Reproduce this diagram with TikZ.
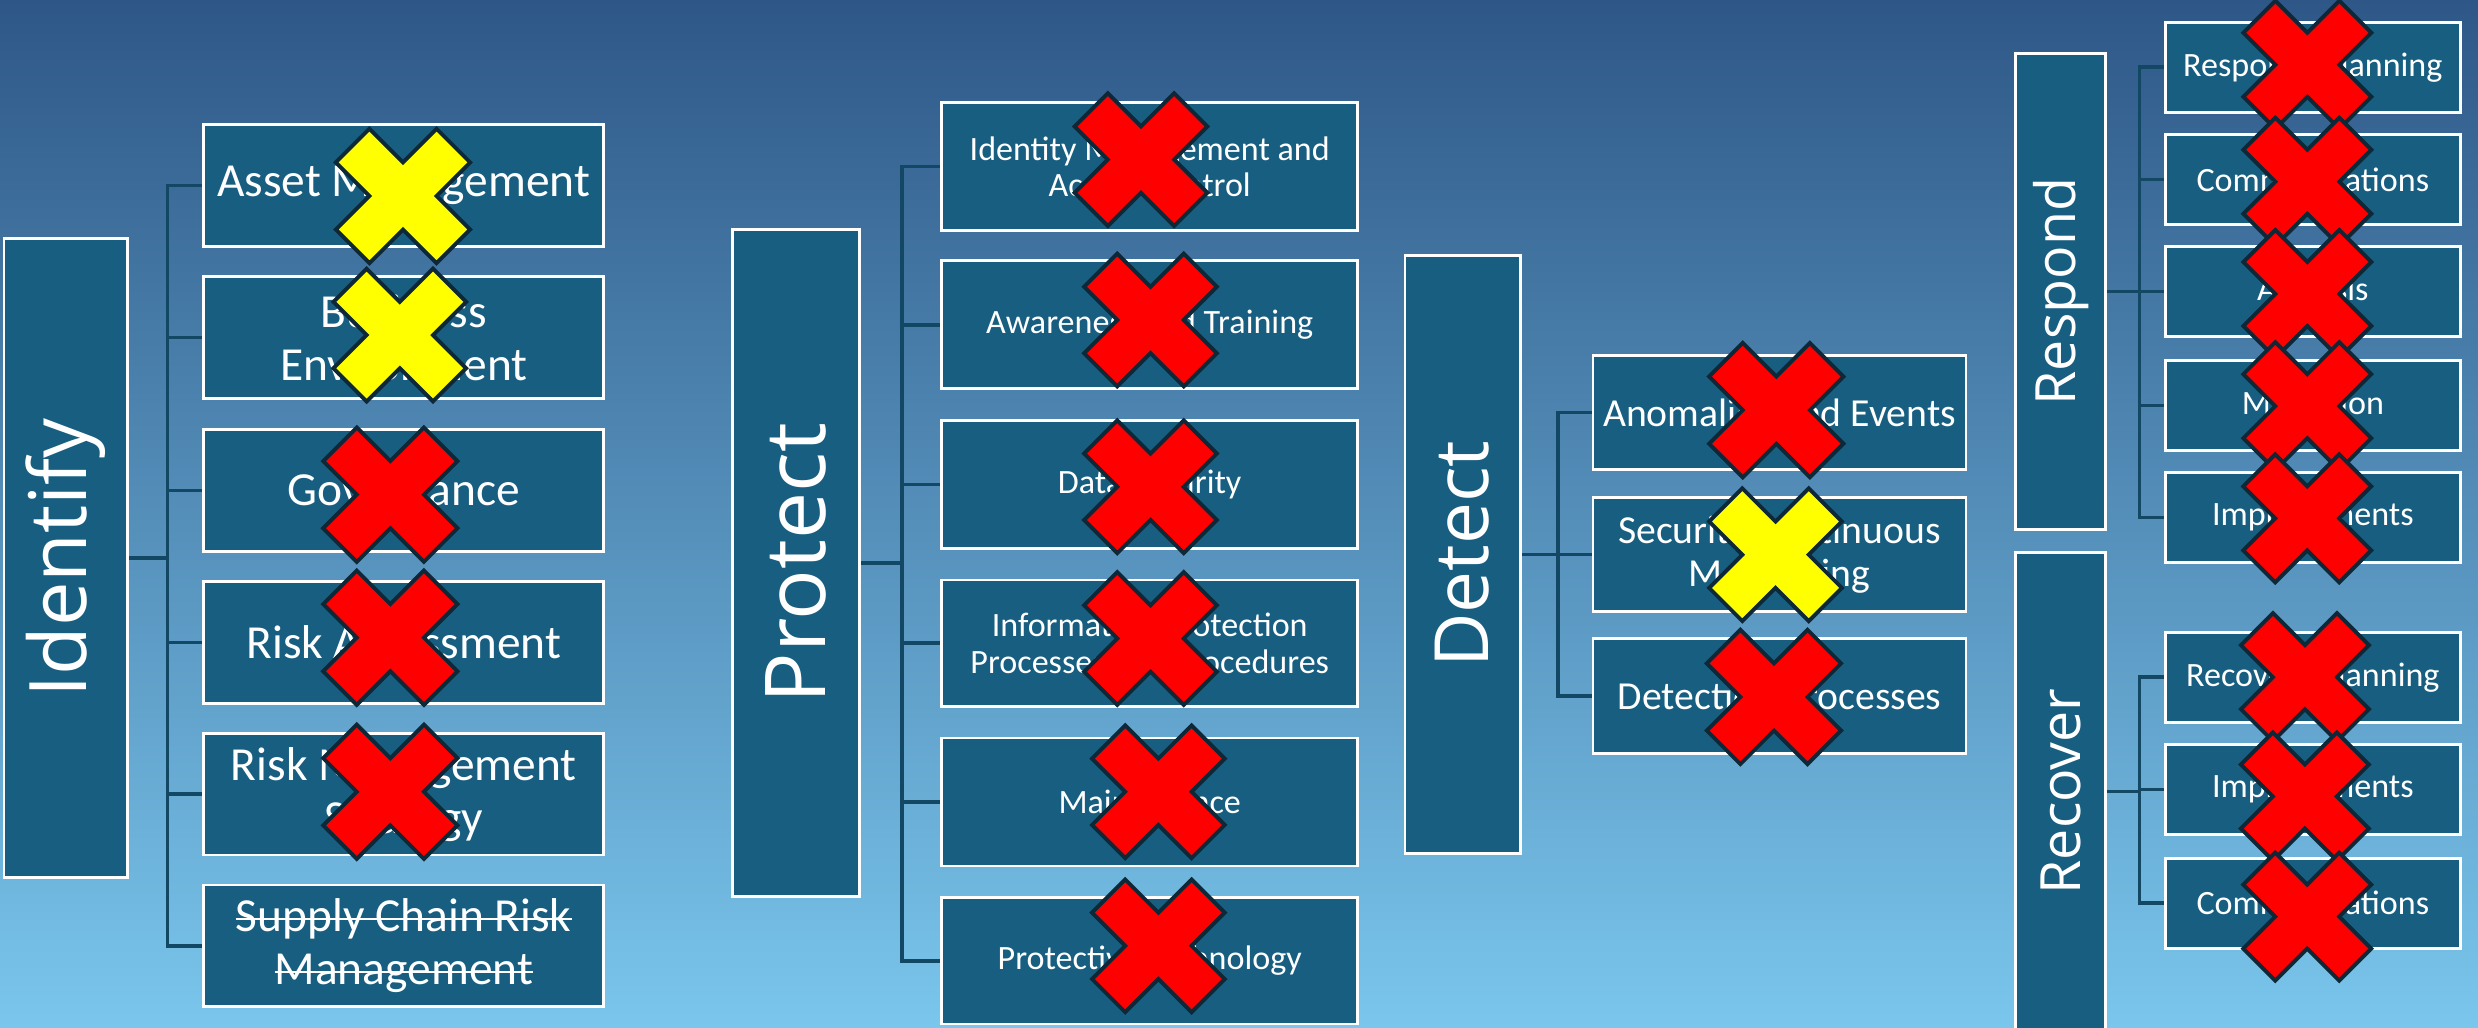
\documentclass[tikz,border=0pt]{standalone}
\usepackage{fontspec}
\setmainfont{Carlito}
\newfontfamily\labelfont{Open Sans}
\newsavebox{\strkbox}
\newcommand{\strk}[1]{\sbox{\strkbox}{#1}\rlap{\rule[0.24em]{\wd\strkbox}{0.6pt}}\usebox{\strkbox}}
\definecolor{boxfill}{RGB}{23,94,128}
\definecolor{connc}{RGB}{18,72,99}
\definecolor{xedge}{RGB}{14,40,56}
\definecolor{bgtop}{RGB}{46,87,135}
\definecolor{bgmid}{RGB}{84,144,192}
\definecolor{bgbot}{RGB}{122,198,236}
\definecolor{xred}{RGB}{255,0,0}
\definecolor{xyellow}{RGB}{255,255,0}
\pgfdeclarelayer{back}
\pgfdeclarelayer{lines}
\pgfsetlayers{back,lines,main}
\tikzset{
  cbox/.style={draw=white, line width=0.8pt, fill=boxfill, inner sep=0pt, text=white, align=center},
  conn/.style={draw=connc, line width=1pt},
  mlabel/.style={text=white, inner sep=0pt, rotate=90},
  tI/.style={font=\fontsize{13.5}{15.1}\selectfont},
  tP/.style={font=\fontsize{9.7}{10.4}\selectfont},
  tD/.style={font=\fontsize{11.3}{12.2}\selectfont},
  tR/.style={font=\fontsize{9.7}{10.6}\selectfont},
  redx/.style={fill=xred, draw=xedge, line width=1.1pt},
  yelx/.style={fill=xyellow, draw=xedge, line width=1.1pt},
  xmark/.pic={\path[pic actions] (-0.5,1)--(0,0.5)--(0.5,1)--(1,0.5)--(0.5,0)--(1,-0.5)--(0.5,-1)--(0,-0.5)--(-0.5,-1)--(-1,-0.5)--(-0.5,0)--(-1,0.5)--cycle;}
}
% box: name, x1, y1, x2, y2, style, text  (coordinates in reference pixels at 1568 wide)
\newcommand{\bx}[7]{\node[cbox,#6,minimum width={(#4-#2)*0.015804cm}, minimum height={(#5-#3)*0.015804cm}] (#1) at ({(#2+#4)/2},{(#3+#5)/2}) {#7};}
\begin{document}
\begin{tikzpicture}[x=0.015804cm, y=-0.015804cm]
\useasboundingbox (0,0) rectangle (1568,650);
\clip (0,0) rectangle (1568,650);
\begin{pgfonlayer}{back}
\shade[top color=bgtop, middle color=bgmid, bottom color=bgbot] (0,0) rectangle (1568,650);
\end{pgfonlayer}

% ---------- Identify ----------
\bx{idmain}{2.5}{151}{80.5}{555}{}{}
\node[mlabel, font=\labelfont\fontsize{22.6}{26}\selectfont] (idlbl) at (idmain.center) {Identify};
\bx{am}{129}{79}{382}{156}{tI}{Asset Management}
\bx{be}{129}{175}{382}{252}{tI}{Business\\Environment}
\bx{gv}{129}{272}{382}{349}{tI}{Governance}
\bx{ra}{129}{368}{382}{445}{tI}{Risk Assessment}
\bx{rm}{129}{464}{382}{541}{tI}{Risk Management\\Strategy}
\bx{sc}{129}{560}{382}{637}{tI}{\strk{Supply Chain Risk}\\\strk{Management}}

% ---------- Protect ----------
\bx{prmain}{463.5}{145}{544}{567.5}{}{}
\node[mlabel, font=\labelfont\fontsize{23.9}{28}\selectfont] (prlbl) at (prmain.center) {Protect};
\bx{p1}{596}{65}{859}{146}{tP}{Identity Management and\\Access Control}
\bx{p2}{596}{165}{859}{246}{tP}{Awareness and Training}
\bx{p3}{596}{266}{859}{347}{tP}{Data Security}
\bx{p4}{596}{367}{859}{447}{tP}{Information Protection\\Processes and Procedures}
\bx{p5}{596}{467}{859}{548}{tP}{Maintenance}
\bx{p6}{596}{568}{859}{648}{tP}{Protective Technology}

% ---------- Detect ----------
\bx{dtmain}{889}{161.5}{962}{540}{}{}
\node[mlabel, font=\labelfont\fontsize{21.3}{25}\selectfont] (dtlbl) at (dtmain.center) {Detect};
\bx{d1}{1008}{225}{1244}{297}{tD}{Anomalies and Events}
\bx{d2}{1008}{315}{1244}{387}{tD}{Security Continuous\\Monitoring}
\bx{d3}{1008}{404}{1244}{477}{tD}{Detection Processes}

% ---------- Respond ----------
\bx{rsmain}{1275.5}{34}{1332.5}{335}{}{}
\node[mlabel, font=\labelfont\fontsize{15.8}{19}\selectfont] (rslbl) at (rsmain.center) {Respond};
\bx{r1}{1370}{14}{1557}{71}{tR}{Response Planning}
\bx{r2}{1370}{85}{1557}{142}{tR}{Communications}
\bx{r3}{1370}{156}{1557}{213}{tR}{Analysis}
\bx{r4}{1370}{228}{1557}{285}{tR}{Mitigation}
\bx{r5}{1370}{299}{1557}{356}{tR}{Improvements}

% ---------- Recover ----------
\bx{rcmain}{1275.5}{349.5}{1332.5}{652}{}{}
\node[mlabel, font=\labelfont\fontsize{15.8}{19}\selectfont] (rclbl) at (rcmain.center) {Recover};
\bx{c1}{1370}{400}{1557}{457}{tR}{Recovery Planning}
\bx{c2}{1370}{471}{1557}{528}{tR}{Improvements}
\bx{c3}{1370}{543}{1557}{600}{tR}{Communications}

% ---------- connectors ----------
\begin{pgfonlayer}{lines}
\foreach \c in {am,be,gv,ra,rm,sc} \draw[conn] (idmain.east) -- ++(24.5,0) |- (\c.west);
\foreach \c in {p1,p2,p3,p4,p5,p6} \draw[conn] (prmain.east) -- ++(26,0) |- (\c.west);
\foreach \c in {d1,d2,d3} \draw[conn] (dtmain.east) -- ++(23,0) |- (\c.west);
\foreach \c in {r1,r2,r3,r4,r5} \draw[conn] (rsmain.east) -- ++(20.5,0) |- (\c.west);
\foreach \c in {c1,c2,c3} \draw[conn] (rcmain.east) -- ++(20.5,0) |- (\c.west);
\end{pgfonlayer}

% ---------- crosses ----------
\pic[yelx, scale=42.5] at (255,124) {xmark};
\pic[yelx, scale=42] at (253,212) {xmark};
\pic[redx, scale=42.5] at (247,313) {xmark};
\pic[redx, scale=42.5] at (247,403.5) {xmark};
\pic[redx, scale=42.5] at (247,501) {xmark};

\pic[redx, scale=42] at (722,101) {xmark};
\pic[redx, scale=42] at (728,202.5) {xmark};
\pic[redx, scale=42] at (728,308) {xmark};
\pic[redx, scale=42] at (728,404) {xmark};
\pic[redx, scale=42] at (733,501) {xmark};
\pic[redx, scale=42] at (733,598.5) {xmark};

\pic[redx, scale=42.5] at (1124,259.5) {xmark};
\pic[yelx, scale=42] at (1123.5,351) {xmark};
\pic[redx, scale=42.5] at (1122.5,441) {xmark};

\pic[redx, scale=40.5] at (1460,41) {xmark};
\pic[redx, scale=40.5] at (1460,115) {xmark};
\pic[redx, scale=40.5] at (1460,186) {xmark};
\pic[redx, scale=40.5] at (1460,257) {xmark};
\pic[redx, scale=40.5] at (1460,328) {xmark};

\pic[redx, scale=40.5] at (1458.5,428.5) {xmark};
\pic[redx, scale=40.5] at (1458.5,504) {xmark};
\pic[redx, scale=40.5] at (1460,580) {xmark};
\end{tikzpicture}
\end{document}
